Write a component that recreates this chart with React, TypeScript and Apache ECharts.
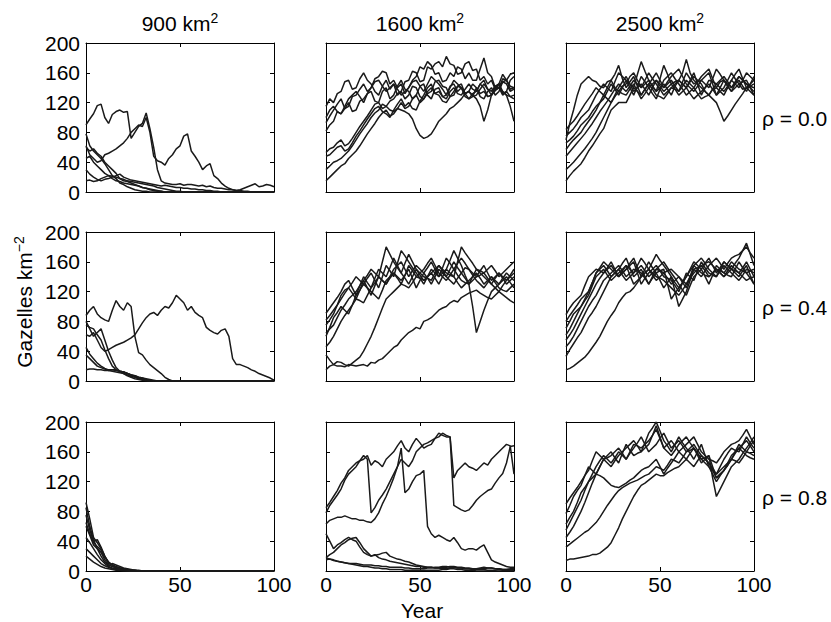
import React, { useEffect, useRef } from 'react';
import * as echarts from 'echarts';

const YEARS = [
  0, 2, 4, 6, 8, 10, 12, 14, 16, 18,
  20, 22, 24, 26, 28, 30, 32, 34, 36, 38,
  40, 42, 44, 46, 48, 50, 52, 54, 56, 58,
  60, 62, 64, 66, 68, 70, 72, 74, 76, 78,
  80, 82, 84, 86, 88, 90, 92, 94, 96, 98,
  100,
];
const AREA_LABELS = ['900', '1600', '2500'];
const RHO_LABELS = ['0.0', '0.4', '0.8'];
const X_TICKS = [0, 50, 100];
const Y_TICKS = [0, 40, 80, 120, 160, 200];

// 900 km², rho = 0.0
const A900_R0 = [
  [90, 98, 105, 116, 118, 100, 92, 104, 108, 110, 107, 108, 72, 80, 88, 92, 106, 85, 60, 30, 15, 12, 11, 10, 10, 11, 9, 10, 10, 9, 8, 9, 7, 8, 6, 5, 5, 4, 3, 3, 2, 2, 1, 1, 0, 0, 0, 0, 0, 0, 0],
  [62, 50, 45, 40, 42, 50, 52, 55, 58, 62, 66, 72, 80, 85, 90, 88, 100, 80, 48, 42, 40, 36, 45, 50, 58, 62, 75, 78, 55, 48, 40, 30, 35, 38, 22, 18, 12, 8, 5, 3, 2, 3, 5, 7, 9, 11, 7, 8, 10, 9, 7],
  [78, 62, 55, 50, 45, 38, 30, 22, 18, 12, 10, 7, 5, 3, 2, 1, 1, 0, 0, 0, 0, 0, 0, 0, 0, 0, 0, 0, 0, 0, 0, 0, 0, 0, 0, 0, 0, 0, 0, 0, 0, 0, 0, 0, 0, 0, 0, 0, 0, 0, 0],
  [60, 55, 58, 52, 48, 40, 35, 30, 25, 18, 15, 14, 12, 10, 8, 6, 5, 3, 2, 1, 1, 0, 0, 0, 0, 0, 0, 0, 0, 0, 0, 0, 0, 0, 0, 0, 0, 0, 0, 0, 0, 0, 0, 0, 0, 0, 0, 0, 0, 0, 0],
  [45, 48, 40, 35, 30, 25, 22, 18, 15, 14, 12, 11, 10, 9, 8, 6, 5, 4, 3, 2, 1, 0, 0, 0, 0, 0, 0, 0, 0, 0, 0, 0, 0, 0, 0, 0, 0, 0, 0, 0, 0, 0, 0, 0, 0, 0, 0, 0, 0, 0, 0],
  [30, 24, 20, 17, 15, 17, 18, 20, 22, 24, 20, 18, 16, 15, 14, 13, 12, 11, 10, 9, 8, 9, 8, 7, 6, 6, 5, 5, 4, 4, 3, 3, 2, 2, 1, 1, 0, 0, 0, 0, 0, 0, 0, 0, 0, 0, 0, 0, 0, 0, 0],
  [15, 16, 14, 15, 18, 20, 22, 21, 20, 18, 17, 15, 14, 13, 12, 11, 10, 9, 8, 6, 5, 4, 3, 2, 1, 1, 0, 0, 0, 0, 0, 0, 0, 0, 0, 0, 0, 0, 0, 0, 0, 0, 0, 0, 0, 0, 0, 0, 0, 0, 0],
];

// 1600 km², rho = 0.0
const A1600_R0 = [
  [115, 125, 120, 132, 135, 148, 150, 138, 140, 152, 160, 150, 145, 135, 130, 142, 150, 138, 145, 130, 135, 148, 150, 162, 160, 148, 150, 168, 165, 172, 175, 168, 182, 172, 170, 158, 160, 172, 175, 163, 165, 150, 155, 145, 150, 138, 140, 152, 150, 158, 160],
  [93, 102, 110, 118, 125, 112, 115, 128, 130, 138, 145, 135, 140, 152, 155, 162, 160, 145, 150, 140, 145, 132, 140, 150, 155, 168, 165, 175, 170, 158, 160, 148, 150, 160, 155, 168, 165, 152, 160, 150, 150, 165, 180, 160, 155, 140, 145, 158, 150, 138, 140],
  [82, 90, 95, 108, 105, 112, 120, 108, 110, 122, 125, 132, 135, 122, 120, 135, 140, 125, 130, 142, 150, 138, 135, 125, 130, 142, 145, 130, 125, 138, 140, 128, 130, 142, 145, 135, 140, 128, 125, 132, 135, 145, 140, 128, 130, 142, 145, 132, 135, 150, 155],
  [53, 58, 60, 66, 70, 62, 65, 72, 80, 88, 95, 102, 110, 118, 120, 112, 115, 122, 125, 132, 135, 125, 130, 142, 140, 128, 125, 132, 135, 148, 150, 142, 140, 128, 130, 142, 145, 132, 135, 145, 140, 128, 125, 135, 140, 130, 135, 148, 150, 142, 140],
  [48, 50, 55, 60, 62, 55, 58, 66, 75, 82, 90, 98, 105, 112, 115, 108, 105, 100, 110, 118, 125, 115, 120, 112, 110, 122, 130, 140, 145, 132, 135, 128, 125, 135, 140, 132, 130, 138, 145, 138, 135, 145, 150, 138, 130, 136, 140, 130, 135, 128, 130],
  [30, 35, 40, 42, 45, 50, 55, 62, 70, 78, 85, 92, 100, 106, 110, 118, 115, 110, 108, 112, 110, 108, 105, 98, 85, 76, 72, 74, 78, 86, 95, 100, 105, 112, 115, 120, 125, 132, 135, 128, 140, 132, 135, 128, 130, 138, 140, 148, 145, 135, 138],
  [15, 20, 25, 30, 35, 38, 45, 50, 55, 62, 70, 78, 85, 92, 100, 106, 110, 102, 105, 112, 120, 112, 115, 125, 130, 120, 125, 135, 140, 132, 130, 122, 120, 128, 135, 142, 140, 132, 125, 128, 130, 138, 145, 138, 135, 142, 140, 135, 130, 128, 125],
  [100, 110, 115, 108, 105, 115, 125, 130, 135, 128, 120, 132, 140, 148, 150, 142, 135, 140, 145, 138, 130, 135, 140, 148, 150, 142, 135, 145, 155, 150, 145, 138, 130, 140, 150, 145, 140, 132, 135, 130, 125, 115, 95, 110, 130, 138, 145, 135, 130, 115, 95],
];

// 2500 km², rho = 0.0
const A2500_R0 = [
  [70, 92, 110, 130, 145, 150, 155, 150, 148, 142, 140, 148, 150, 140, 135, 142, 145, 155, 160, 150, 140, 145, 150, 142, 135, 140, 145, 138, 130, 142, 150, 145, 140, 148, 155, 150, 145, 135, 130, 138, 140, 148, 150, 142, 135, 140, 145, 138, 140, 145, 150],
  [84, 90, 95, 102, 110, 118, 125, 132, 140, 135, 130, 140, 150, 158, 170, 152, 140, 148, 155, 142, 130, 138, 145, 152, 160, 150, 140, 145, 150, 142, 135, 148, 160, 152, 145, 148, 150, 145, 140, 152, 165, 158, 150, 142, 135, 145, 155, 150, 145, 142, 140],
  [75, 80, 85, 92, 100, 105, 110, 120, 130, 138, 145, 140, 135, 148, 160, 155, 150, 140, 130, 142, 155, 148, 140, 132, 125, 138, 150, 155, 160, 152, 145, 138, 130, 135, 140, 148, 155, 160, 165, 152, 140, 135, 130, 140, 150, 145, 140, 150, 160, 155, 150],
  [66, 70, 75, 82, 90, 95, 100, 108, 115, 120, 125, 135, 145, 138, 130, 140, 150, 145, 140, 158, 175, 162, 150, 142, 135, 152, 170, 158, 145, 148, 150, 145, 140, 150, 160, 145, 130, 140, 150, 148, 145, 140, 135, 142, 150, 158, 165, 152, 140, 142, 145],
  [57, 64, 70, 75, 80, 88, 95, 102, 110, 120, 130, 125, 120, 130, 140, 148, 155, 145, 135, 140, 145, 138, 130, 140, 150, 145, 140, 148, 155, 160, 165, 155, 145, 140, 135, 142, 150, 155, 160, 145, 130, 135, 140, 150, 160, 152, 145, 148, 150, 140, 130],
  [48, 54, 60, 66, 72, 78, 85, 92, 100, 108, 115, 122, 130, 138, 145, 140, 135, 142, 150, 145, 140, 150, 160, 152, 145, 138, 130, 135, 140, 145, 150, 160, 178, 160, 150, 145, 140, 135, 130, 138, 145, 150, 155, 148, 140, 145, 150, 142, 135, 145, 155],
  [30, 35, 40, 46, 52, 58, 65, 72, 80, 90, 100, 110, 120, 128, 135, 132, 130, 138, 145, 135, 125, 132, 140, 145, 150, 142, 135, 140, 145, 138, 130, 135, 140, 132, 125, 130, 135, 140, 145, 138, 130, 140, 150, 145, 140, 148, 155, 150, 145, 140, 135],
  [15, 22, 28, 33, 38, 46, 55, 62, 70, 78, 85, 98, 110, 115, 120, 120, 120, 130, 140, 135, 130, 138, 145, 138, 130, 128, 125, 132, 140, 138, 135, 142, 150, 145, 140, 132, 125, 128, 130, 125, 120, 108, 95, 102, 110, 118, 125, 132, 140, 135, 130],
];

// 900 km², rho = 0.4
const A900_R4 = [
  [62, 60, 65, 55, 45, 40, 42, 45, 48, 50, 52, 55, 58, 62, 70, 78, 85, 90, 92, 88, 95, 100, 98, 105, 115, 110, 105, 95, 100, 92, 88, 85, 72, 68, 65, 63, 68, 70, 60, 30, 22, 22, 20, 18, 15, 13, 10, 8, 6, 4, 1],
  [88, 95, 100, 90, 85, 82, 80, 95, 108, 100, 95, 105, 100, 60, 38, 35, 28, 22, 18, 14, 10, 5, 2, 0, 0, 0, 0, 0, 0, 0, 0, 0, 0, 0, 0, 0, 0, 0, 0, 0, 0, 0, 0, 0, 0, 0, 0, 0, 0, 0, 0],
  [75, 72, 70, 62, 55, 42, 30, 20, 15, 13, 12, 10, 8, 6, 4, 3, 2, 1, 0, 0, 0, 0, 0, 0, 0, 0, 0, 0, 0, 0, 0, 0, 0, 0, 0, 0, 0, 0, 0, 0, 0, 0, 0, 0, 0, 0, 0, 0, 0, 0, 0],
  [45, 36, 30, 24, 20, 17, 15, 15, 14, 13, 12, 10, 8, 7, 5, 4, 3, 2, 1, 0, 0, 0, 0, 0, 0, 0, 0, 0, 0, 0, 0, 0, 0, 0, 0, 0, 0, 0, 0, 0, 0, 0, 0, 0, 0, 0, 0, 0, 0, 0, 0],
  [35, 30, 25, 20, 18, 16, 14, 13, 12, 11, 10, 8, 6, 5, 3, 2, 1, 0, 0, 0, 0, 0, 0, 0, 0, 0, 0, 0, 0, 0, 0, 0, 0, 0, 0, 0, 0, 0, 0, 0, 0, 0, 0, 0, 0, 0, 0, 0, 0, 0, 0],
  [15, 16, 16, 15, 15, 14, 14, 15, 15, 13, 12, 10, 8, 7, 5, 4, 2, 1, 0, 0, 0, 0, 0, 0, 0, 0, 0, 0, 0, 0, 0, 0, 0, 0, 0, 0, 0, 0, 0, 0, 0, 0, 0, 0, 0, 0, 0, 0, 0, 0, 0],
  [80, 70, 60, 65, 70, 55, 40, 28, 18, 13, 10, 7, 5, 3, 2, 1, 0, 0, 0, 0, 0, 0, 0, 0, 0, 0, 0, 0, 0, 0, 0, 0, 0, 0, 0, 0, 0, 0, 0, 0, 0, 0, 0, 0, 0, 0, 0, 0, 0, 0, 0],
];

// 1600 km², rho = 0.4
const A1600_R4 = [
  [91, 98, 105, 112, 120, 130, 135, 125, 115, 128, 140, 132, 125, 138, 150, 145, 140, 152, 165, 155, 145, 138, 130, 140, 150, 142, 135, 140, 145, 150, 155, 148, 140, 135, 130, 138, 145, 152, 150, 142, 135, 130, 125, 132, 140, 135, 130, 138, 145, 140, 135],
  [82, 88, 95, 102, 110, 118, 125, 132, 140, 135, 130, 138, 145, 135, 125, 140, 155, 148, 140, 158, 175, 168, 160, 152, 145, 138, 130, 140, 150, 145, 140, 152, 165, 158, 150, 142, 135, 132, 130, 135, 140, 148, 155, 145, 135, 140, 145, 138, 130, 135, 140],
  [64, 70, 75, 85, 95, 102, 110, 115, 120, 128, 135, 125, 115, 128, 140, 135, 130, 138, 145, 140, 135, 142, 150, 138, 125, 135, 145, 152, 160, 150, 140, 145, 150, 162, 175, 165, 155, 142, 130, 100, 65, 80, 95, 108, 120, 125, 130, 135, 140, 132, 125],
  [46, 52, 60, 70, 80, 88, 95, 102, 110, 108, 105, 115, 125, 132, 140, 135, 130, 140, 150, 155, 160, 150, 140, 148, 155, 150, 145, 138, 130, 140, 150, 145, 140, 150, 160, 152, 145, 138, 130, 140, 150, 145, 140, 135, 130, 138, 145, 140, 135, 142, 150],
  [60, 72, 85, 92, 100, 95, 90, 102, 115, 122, 130, 125, 120, 115, 110, 122, 135, 140, 145, 138, 130, 142, 155, 148, 140, 145, 150, 158, 165, 155, 145, 140, 135, 142, 150, 158, 165, 158, 150, 145, 140, 142, 145, 138, 130, 125, 120, 128, 135, 140, 145],
  [15, 20, 22, 26, 25, 22, 20, 24, 28, 32, 40, 50, 60, 72, 85, 98, 110, 115, 120, 125, 130, 128, 125, 132, 140, 138, 135, 140, 145, 138, 130, 140, 150, 145, 140, 132, 125, 130, 135, 140, 145, 138, 130, 135, 140, 132, 125, 122, 120, 125, 130],
  [35, 28, 22, 20, 20, 19, 22, 21, 20, 21, 22, 20, 25, 24, 28, 30, 35, 40, 45, 48, 55, 60, 65, 68, 72, 70, 80, 82, 85, 90, 95, 98, 100, 105, 108, 106, 112, 115, 118, 120, 122, 118, 115, 112, 110, 115, 120, 116, 112, 108, 105],
  [75, 82, 90, 102, 115, 122, 125, 118, 110, 122, 135, 142, 150, 145, 140, 160, 180, 170, 160, 152, 145, 158, 170, 160, 150, 145, 140, 138, 135, 145, 155, 150, 145, 142, 140, 160, 180, 172, 165, 158, 150, 148, 145, 150, 155, 148, 140, 145, 150, 155, 160],
];

// 2500 km², rho = 0.4
const A2500_R4 = [
  [89, 98, 105, 110, 115, 128, 140, 145, 150, 148, 145, 152, 160, 150, 140, 148, 155, 150, 145, 155, 165, 158, 150, 145, 140, 138, 135, 130, 125, 120, 115, 122, 130, 138, 145, 150, 155, 158, 160, 155, 150, 145, 140, 145, 150, 148, 145, 140, 135, 138, 140],
  [80, 88, 95, 102, 110, 115, 120, 132, 145, 150, 155, 148, 140, 145, 150, 158, 165, 152, 140, 145, 150, 140, 130, 138, 145, 148, 150, 130, 110, 118, 125, 132, 140, 150, 160, 155, 150, 158, 165, 155, 145, 152, 160, 155, 150, 145, 140, 148, 155, 142, 130],
  [71, 80, 90, 95, 100, 108, 115, 128, 140, 145, 150, 142, 135, 140, 145, 150, 155, 142, 130, 135, 140, 150, 160, 152, 145, 135, 125, 132, 140, 120, 100, 110, 120, 135, 150, 145, 140, 148, 155, 160, 165, 158, 150, 158, 165, 168, 170, 175, 180, 172, 165],
  [55, 62, 70, 80, 90, 100, 110, 120, 130, 138, 145, 150, 155, 148, 140, 145, 150, 155, 160, 145, 130, 138, 145, 150, 155, 148, 140, 138, 135, 128, 120, 132, 145, 140, 135, 148, 160, 152, 145, 142, 140, 148, 155, 150, 145, 140, 135, 142, 150, 148, 145],
  [46, 52, 60, 70, 80, 90, 100, 108, 115, 125, 135, 140, 145, 150, 155, 148, 140, 145, 150, 148, 145, 138, 130, 140, 150, 155, 160, 152, 145, 138, 130, 122, 115, 128, 140, 145, 150, 140, 130, 142, 155, 150, 145, 142, 140, 150, 160, 152, 145, 148, 150],
  [33, 42, 50, 58, 65, 75, 85, 92, 100, 110, 120, 130, 140, 145, 150, 142, 135, 140, 145, 150, 155, 148, 140, 145, 150, 148, 145, 138, 130, 135, 140, 132, 125, 140, 155, 150, 145, 142, 140, 145, 150, 145, 140, 148, 155, 150, 145, 152, 160, 150, 140],
  [15, 17, 20, 24, 28, 32, 38, 45, 52, 60, 70, 80, 88, 95, 105, 112, 118, 120, 125, 132, 140, 145, 150, 142, 135, 140, 145, 148, 150, 145, 140, 135, 130, 140, 150, 152, 155, 148, 140, 145, 150, 148, 145, 152, 160, 155, 150, 148, 145, 138, 130],
  [62, 70, 80, 90, 100, 110, 120, 132, 145, 152, 160, 155, 150, 145, 140, 145, 150, 158, 165, 152, 140, 145, 150, 160, 170, 162, 155, 148, 140, 132, 125, 132, 140, 148, 155, 160, 165, 158, 150, 145, 140, 150, 160, 155, 150, 158, 165, 175, 185, 170, 155],
];

// 900 km², rho = 0.8
const A900_R8 = [
  [92, 70, 45, 38, 30, 20, 12, 8, 5, 4, 3, 2, 1, 1, 0, 0, 0, 0, 0, 0, 0, 0, 0, 0, 0, 0, 0, 0, 0, 0, 0, 0, 0, 0, 0, 0, 0, 0, 0, 0, 0, 0, 0, 0, 0, 0, 0, 0, 0, 0, 0],
  [75, 55, 40, 42, 32, 20, 10, 8, 6, 4, 2, 2, 1, 1, 0, 0, 0, 0, 0, 0, 0, 0, 0, 0, 0, 0, 0, 0, 0, 0, 0, 0, 0, 0, 0, 0, 0, 0, 0, 0, 0, 0, 0, 0, 0, 0, 0, 0, 0, 0, 0],
  [60, 48, 35, 30, 25, 15, 8, 6, 4, 3, 2, 1, 0, 0, 0, 0, 0, 0, 0, 0, 0, 0, 0, 0, 0, 0, 0, 0, 0, 0, 0, 0, 0, 0, 0, 0, 0, 0, 0, 0, 0, 0, 0, 0, 0, 0, 0, 0, 0, 0, 0],
  [45, 38, 30, 22, 15, 10, 6, 4, 3, 2, 1, 1, 0, 0, 0, 0, 0, 0, 0, 0, 0, 0, 0, 0, 0, 0, 0, 0, 0, 0, 0, 0, 0, 0, 0, 0, 0, 0, 0, 0, 0, 0, 0, 0, 0, 0, 0, 0, 0, 0, 0],
  [85, 60, 42, 30, 20, 12, 7, 10, 8, 6, 4, 3, 2, 1, 1, 0, 0, 0, 0, 0, 0, 0, 0, 0, 0, 0, 0, 0, 0, 0, 0, 0, 0, 0, 0, 0, 0, 0, 0, 0, 0, 0, 0, 0, 0, 0, 0, 0, 0, 0, 0],
  [30, 25, 20, 15, 10, 7, 5, 3, 2, 2, 1, 0, 0, 0, 0, 0, 0, 0, 0, 0, 0, 0, 0, 0, 0, 0, 0, 0, 0, 0, 0, 0, 0, 0, 0, 0, 0, 0, 0, 0, 0, 0, 0, 0, 0, 0, 0, 0, 0, 0, 0],
  [20, 16, 12, 9, 6, 4, 3, 2, 1, 1, 0, 0, 0, 0, 0, 0, 0, 0, 0, 0, 0, 0, 0, 0, 0, 0, 0, 0, 0, 0, 0, 0, 0, 0, 0, 0, 0, 0, 0, 0, 0, 0, 0, 0, 0, 0, 0, 0, 0, 0, 0],
  [65, 50, 38, 33, 28, 18, 12, 8, 5, 3, 2, 1, 0, 0, 0, 0, 0, 0, 0, 0, 0, 0, 0, 0, 0, 0, 0, 0, 0, 0, 0, 0, 0, 0, 0, 0, 0, 0, 0, 0, 0, 0, 0, 0, 0, 0, 0, 0, 0, 0, 0],
];

// 1600 km², rho = 0.8
const A1600_R8 = [
  [85, 92, 100, 108, 118, 125, 135, 140, 145, 148, 150, 155, 142, 148, 145, 140, 150, 155, 160, 168, 175, 165, 160, 170, 178, 172, 165, 168, 170, 178, 185, 182, 180, 180, 125, 135, 140, 145, 140, 138, 135, 140, 145, 142, 150, 155, 160, 165, 170, 168, 130],
  [78, 88, 95, 102, 110, 122, 130, 135, 140, 148, 155, 150, 78, 85, 95, 102, 110, 120, 130, 140, 150, 145, 140, 148, 160, 165, 170, 172, 175, 178, 180, 185, 182, 180, 88, 85, 82, 80, 82, 88, 95, 100, 104, 108, 110, 118, 125, 131, 145, 167, 168],
  [63, 68, 70, 72, 72, 74, 72, 70, 70, 68, 68, 66, 65, 70, 78, 90, 100, 112, 125, 140, 165, 105, 110, 120, 128, 130, 135, 60, 50, 45, 48, 45, 42, 40, 45, 38, 30, 28, 30, 30, 28, 32, 35, 25, 15, 12, 10, 8, 6, 5, 5],
  [18, 22, 25, 30, 35, 38, 42, 44, 45, 38, 30, 25, 20, 22, 18, 16, 15, 13, 12, 11, 10, 9, 8, 7, 6, 6, 5, 5, 5, 4, 4, 5, 5, 6, 6, 5, 5, 4, 4, 3, 3, 3, 3, 4, 4, 3, 3, 2, 2, 2, 2],
  [50, 40, 30, 35, 38, 42, 45, 42, 40, 32, 25, 22, 20, 21, 22, 24, 25, 20, 18, 16, 15, 13, 12, 10, 8, 7, 6, 5, 5, 4, 4, 3, 3, 4, 5, 4, 4, 3, 3, 2, 2, 2, 2, 1, 1, 1, 2, 1, 1, 1, 1],
  [15, 16, 15, 13, 12, 11, 10, 10, 10, 9, 8, 8, 8, 7, 7, 6, 6, 5, 5, 5, 5, 4, 4, 3, 3, 3, 3, 4, 4, 5, 5, 6, 6, 5, 5, 4, 4, 3, 3, 3, 3, 4, 5, 4, 4, 3, 3, 2, 2, 3, 3],
  [18, 16, 14, 13, 12, 11, 10, 9, 8, 7, 6, 6, 5, 4, 4, 3, 3, 2, 2, 2, 2, 1, 1, 1, 1, 1, 1, 1, 1, 1, 1, 2, 2, 3, 3, 2, 2, 1, 1, 1, 0, 0, 0, 0, 0, 0, 0, 0, 0, 0, 0],
];

// 2500 km², rho = 0.8
const A2500_R8 = [
  [90, 98, 105, 112, 120, 128, 135, 148, 160, 155, 150, 152, 155, 160, 165, 158, 150, 160, 170, 168, 165, 170, 175, 182, 190, 178, 165, 170, 175, 168, 160, 165, 170, 175, 180, 170, 160, 155, 150, 148, 145, 152, 160, 165, 170, 172, 175, 182, 190, 180, 170],
  [77, 88, 100, 108, 115, 128, 140, 135, 130, 140, 150, 155, 160, 152, 145, 158, 170, 162, 155, 158, 160, 172, 185, 192, 200, 188, 175, 168, 160, 170, 180, 172, 165, 158, 150, 160, 170, 155, 140, 135, 130, 140, 150, 158, 165, 162, 160, 170, 180, 172, 165],
  [63, 72, 80, 92, 105, 112, 120, 130, 140, 148, 155, 150, 145, 152, 160, 155, 150, 158, 165, 172, 180, 170, 160, 165, 170, 178, 185, 175, 165, 170, 175, 168, 160, 165, 170, 162, 155, 150, 145, 135, 125, 130, 135, 142, 150, 160, 170, 165, 160, 168, 175],
  [45, 52, 60, 70, 80, 92, 105, 118, 130, 140, 150, 145, 140, 148, 155, 160, 165, 170, 175, 168, 160, 165, 170, 182, 195, 180, 165, 160, 155, 162, 170, 175, 180, 172, 165, 158, 150, 145, 140, 130, 120, 128, 135, 145, 155, 160, 165, 170, 175, 168, 160],
  [32, 36, 40, 44, 48, 52, 55, 60, 65, 72, 80, 88, 95, 102, 108, 112, 115, 118, 120, 122, 125, 128, 130, 135, 140, 138, 135, 142, 150, 148, 145, 152, 160, 162, 165, 158, 150, 152, 155, 125, 100, 110, 120, 130, 140, 145, 150, 158, 165, 172, 180],
  [55, 65, 75, 85, 95, 108, 120, 125, 130, 128, 125, 120, 115, 113, 112, 115, 118, 122, 125, 130, 135, 138, 140, 145, 150, 140, 130, 138, 145, 152, 160, 155, 150, 158, 165, 155, 145, 150, 155, 140, 125, 130, 135, 142, 150, 158, 165, 160, 155, 152, 150],
  [14, 16, 16, 17, 18, 19, 20, 22, 22, 24, 28, 32, 38, 48, 58, 70, 80, 90, 100, 108, 115, 118, 122, 126, 130, 128, 128, 132, 135, 138, 140, 145, 150, 145, 140, 148, 155, 150, 145, 138, 130, 135, 140, 145, 150, 148, 145, 152, 160, 158, 155],
];

const PANELS = [
  [A900_R0, A1600_R0, A2500_R0],
  [A900_R4, A1600_R4, A2500_R4],
  [A900_R8, A1600_R8, A2500_R8],
];

const GRID_LEFTS = [86, 326, 566];
const GRID_TOPS = [43, 232, 422];
const GRID_W = 188;
const GRID_H = 149;
const FONT = "'Liberation Sans', Arial, Helvetica, sans-serif";
const FS = 21;
const SUP = 14;
const INK = '#000';
const LINE = '#1a1a1a';

export default function App() {
  const ref = useRef<HTMLDivElement>(null);

  useEffect(() => {
    if (!ref.current) return;
    const chart = echarts.init(ref.current, null, { renderer: 'svg' });

    const grids: any[] = [];
    const xAxes: any[] = [];
    const yAxes: any[] = [];
    const series: any[] = [];

    const axisLine = { show: true, onZero: false, lineStyle: { color: INK, width: 1 } };
    const tick = { show: true, inside: true, length: 4, lineStyle: { color: INK, width: 1 } };
    const label = (show: boolean, margin: number) => ({ show, color: INK, fontSize: FS, fontFamily: FONT, margin });

    PANELS.forEach((row, r) => {
      row.forEach((lines, c) => {
        const g = r * 3 + c;
        grids.push({ left: GRID_LEFTS[c], top: GRID_TOPS[r], width: GRID_W, height: GRID_H, containLabel: false });
        const xBase = { type: 'value', gridIndex: g, min: X_TICKS[0], max: X_TICKS[X_TICKS.length - 1], interval: X_TICKS[1] - X_TICKS[0], splitLine: { show: false }, axisLine, axisTick: tick };
        const yBase = { type: 'value', gridIndex: g, min: Y_TICKS[0], max: Y_TICKS[Y_TICKS.length - 1], interval: Y_TICKS[1] - Y_TICKS[0], splitLine: { show: false }, axisLine, axisTick: tick };
        xAxes.push({ ...xBase, position: 'bottom', axisLabel: label(r === 2, 3) });
        xAxes.push({ ...xBase, position: 'top', axisLabel: label(false, 3) });
        yAxes.push({ ...yBase, position: 'left', axisLabel: label(c === 0, 6) });
        yAxes.push({ ...yBase, position: 'right', axisLabel: label(false, 6) });
        lines.forEach((vals, k) => {
          series.push({
            type: 'line',
            name: `${AREA_LABELS[c]}-${RHO_LABELS[r]}-${k}`,
            xAxisIndex: g * 2,
            yAxisIndex: g * 2,
            data: YEARS.map((yr, i) => [yr, vals[i]]),
            showSymbol: false,
            symbol: 'none',
            clip: true,
            lineStyle: { color: LINE, width: 1.5 },
            silent: true,
          });
        });
      });
    });

    const supRich = {
      n: { fontSize: FS, fontFamily: FONT, fill: INK, lineHeight: 24 },
      s: { fontSize: SUP, fontFamily: FONT, fill: INK, verticalAlign: 'top', lineHeight: 14 },
    };

    const graphics: any[] = [];
    AREA_LABELS.forEach((a, c) => {
      graphics.push({
        type: 'text',
        x: GRID_LEFTS[c] + GRID_W / 2,
        y: 23,
        style: { text: `{n|${a} km}{s|2}`, align: 'center', verticalAlign: 'middle', rich: supRich },
      });
    });
    RHO_LABELS.forEach((rho, r) => {
      graphics.push({
        type: 'text',
        x: 762,
        y: GRID_TOPS[r] + GRID_H / 2 + 1,
        style: { text: `ρ = ${rho}`, fontSize: FS, fontFamily: FONT, fill: INK, align: 'left', verticalAlign: 'middle' },
      });
    });
    graphics.push({
      type: 'text',
      x: GRID_LEFTS[1] + GRID_W / 2 + 2,
      y: 610,
      style: { text: 'Year', fontSize: FS, fontFamily: FONT, fill: INK, align: 'center', verticalAlign: 'middle' },
    });
    graphics.push({
      type: 'text',
      x: 24,
      y: 302,
      rotation: Math.PI / 2,
      style: { text: '{n|Gazelles km}{s|−2}', align: 'center', verticalAlign: 'middle', rich: supRich },
    });

    chart.setOption({
      animation: false,
      backgroundColor: '#fff',
      grid: grids,
      xAxis: xAxes,
      yAxis: yAxes,
      series,
      graphic: graphics,
    });

    return () => chart.dispose();
  }, []);

  return <div ref={ref} style={{ position: 'absolute', left: 0, top: 0, width: 831, height: 622 }} />;
}
